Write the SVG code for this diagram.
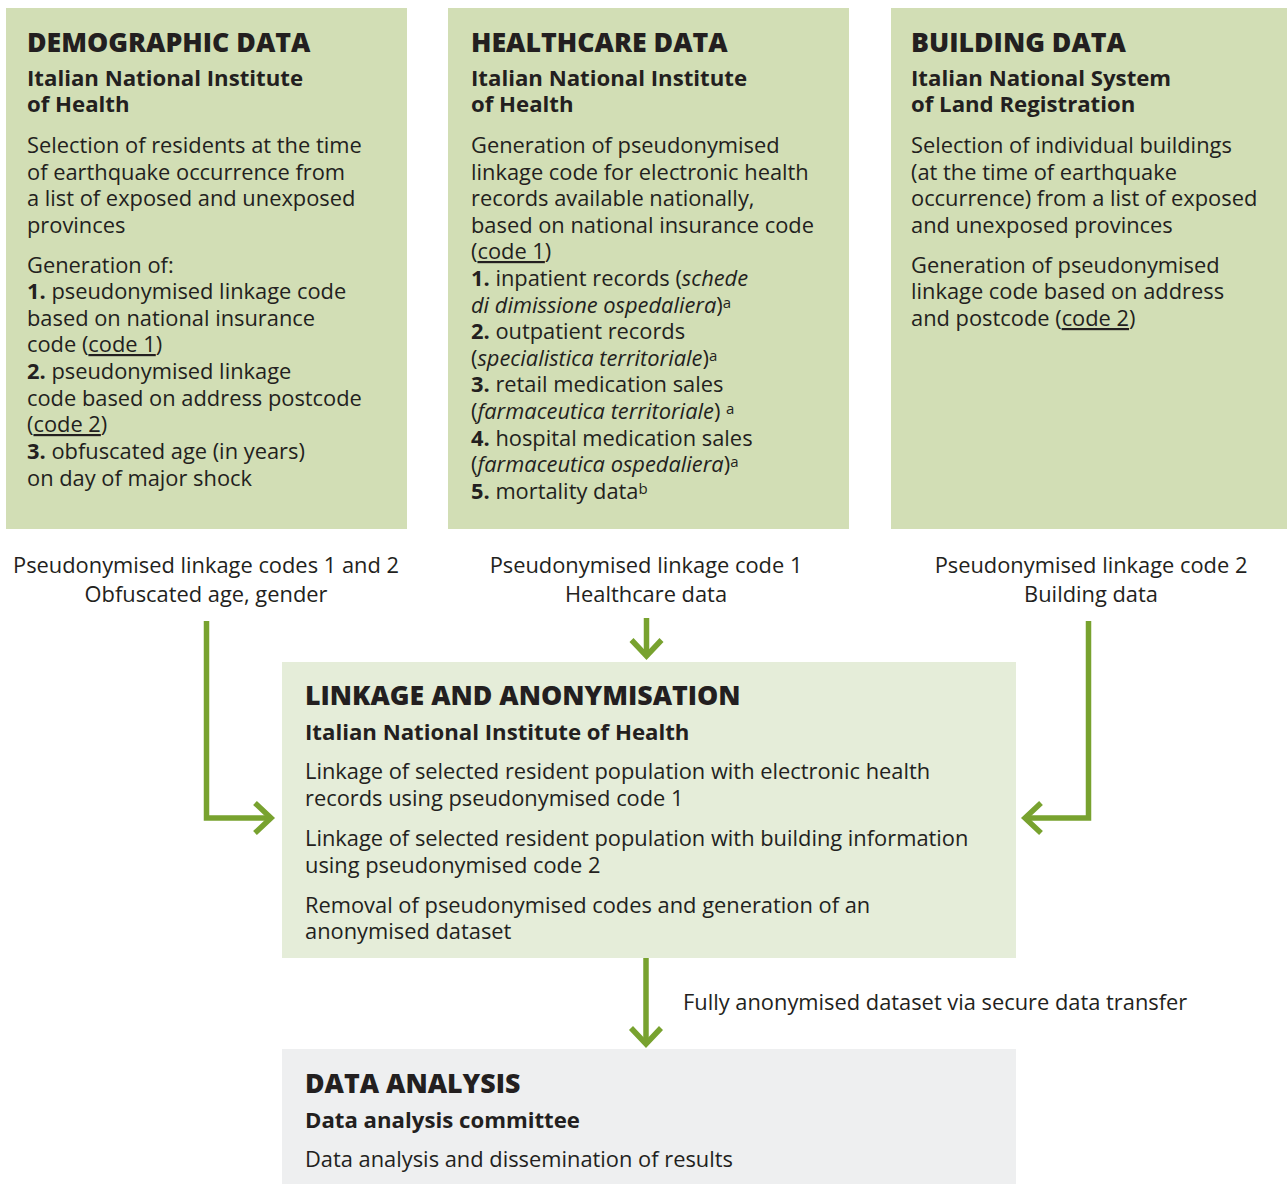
<svg xmlns="http://www.w3.org/2000/svg" width="1287" height="1184" viewBox="0 0 1287 1184">
  <style>
    text { font-family: "Open Sans", "Noto Sans", "DejaVu Sans", sans-serif; fill: #231f20; }
    .title { font-size: 26.7px; font-weight: 800; }
    .sub { font-size: 22.2px; font-weight: 700; }
    .body { font-size: 21.85px; font-weight: 400; }
    .b { font-weight: 700; }
    .i { font-style: italic; }
    .u { text-decoration: underline; }
    .sup { font-size: 15px; }
    .src { fill: #d2deb5; }
    .link { fill: #e5edd9; }
    .ana { fill: #eeeff0; }
    .flow { fill: none; stroke: #78a22f; stroke-width: 5.5; marker-end: url(#chev); }
  </style>
  <defs>
    <marker id="chev" markerUnits="userSpaceOnUse" viewBox="-24 -20 30 40" markerWidth="30" markerHeight="40" refX="0" refY="0" orient="auto">
      <path d="M-16,-15 L0,0 L-16,15" fill="none" stroke="#78a22f" stroke-width="5.5"/>
    </marker>
  </defs>

  <rect width="1287" height="1184" fill="#ffffff"/>

  <!-- Source: demographic data -->
  <g id="demographic">
    <rect class="src" x="6" y="8" width="401" height="521"/>
    <text class="title" x="27" y="52">DEMOGRAPHIC DATA</text>
    <text class="sub" x="27" y="86">Italian National Institute</text>
    <text class="sub" x="27" y="112">of Health</text>
    <text class="body" x="27">
      <tspan x="27" y="153">Selection of residents at the time</tspan>
      <tspan x="27" y="180">of earthquake occurrence from</tspan>
      <tspan x="27" y="206">a list of exposed and unexposed</tspan>
      <tspan x="27" y="233">provinces</tspan>
      <tspan x="27" y="273">Generation of:</tspan>
      <tspan x="27" y="299"><tspan class="b">1.</tspan> pseudonymised linkage code</tspan>
      <tspan x="27" y="326">based on national insurance</tspan>
      <tspan x="27" y="352">code (<tspan class="u">code 1</tspan>)</tspan>
      <tspan x="27" y="379"><tspan class="b">2.</tspan> pseudonymised linkage</tspan>
      <tspan x="27" y="406">code based on address postcode</tspan>
      <tspan x="27" y="432">(<tspan class="u">code 2</tspan>)</tspan>
      <tspan x="27" y="459"><tspan class="b">3.</tspan> obfuscated age (in years)</tspan>
      <tspan x="27" y="486">on day of major shock</tspan>
    </text>
  </g>

  <!-- Source: healthcare data -->
  <g id="healthcare">
    <rect class="src" x="448" y="8" width="401" height="521"/>
    <text class="title" x="471" y="52">HEALTHCARE DATA</text>
    <text class="sub" x="471" y="86">Italian National Institute</text>
    <text class="sub" x="471" y="112">of Health</text>
    <text class="body">
      <tspan x="471" y="153">Generation of pseudonymised</tspan>
      <tspan x="471" y="180">linkage code for electronic health</tspan>
      <tspan x="471" y="206">records available nationally,</tspan>
      <tspan x="471" y="233">based on national insurance code</tspan>
      <tspan x="471" y="259">(<tspan class="u">code 1</tspan>)</tspan>
      <tspan x="471" y="286"><tspan class="b">1.</tspan> inpatient records (<tspan class="i">schede</tspan></tspan>
      <tspan x="471" y="313"><tspan class="i">di dimissione ospedaliera</tspan>)<tspan class="sup" dy="-5">a</tspan></tspan>
      <tspan x="471" y="339"><tspan class="b">2.</tspan> outpatient records</tspan>
      <tspan x="471" y="366">(<tspan class="i">specialistica territoriale</tspan>)<tspan class="sup" dy="-5">a</tspan></tspan>
      <tspan x="471" y="392"><tspan class="b">3.</tspan> retail medication sales</tspan>
      <tspan x="471" y="419">(<tspan class="i">farmaceutica territoriale</tspan>) <tspan class="sup" dy="-5">a</tspan></tspan>
      <tspan x="471" y="446"><tspan class="b">4.</tspan> hospital medication sales</tspan>
      <tspan x="471" y="472">(<tspan class="i">farmaceutica ospedaliera</tspan>)<tspan class="sup" dy="-5">a</tspan></tspan>
      <tspan x="471" y="499"><tspan class="b">5.</tspan> mortality data<tspan class="sup" dy="-5">b</tspan></tspan>
    </text>
  </g>

  <!-- Source: building data -->
  <g id="building">
    <rect class="src" x="891" y="8" width="396" height="521"/>
    <text class="title" x="911" y="52">BUILDING DATA</text>
    <text class="sub" x="911" y="86">Italian National System</text>
    <text class="sub" x="911" y="112">of Land Registration</text>
    <text class="body">
      <tspan x="911" y="153">Selection of individual buildings</tspan>
      <tspan x="911" y="180">(at the time of earthquake</tspan>
      <tspan x="911" y="206">occurrence) from a list of exposed</tspan>
      <tspan x="911" y="233">and unexposed provinces</tspan>
      <tspan x="911" y="273">Generation of pseudonymised</tspan>
      <tspan x="911" y="299">linkage code based on address</tspan>
      <tspan x="911" y="326">and postcode (<tspan class="u">code 2</tspan>)</tspan>
    </text>
  </g>

  <!-- Linkage step -->
  <g id="linkage">
    <rect class="link" x="282" y="662" width="734" height="296"/>
    <text class="title" x="305" y="705">LINKAGE AND ANONYMISATION</text>
    <text class="sub" x="305" y="740">Italian National Institute of Health</text>
    <text class="body">
      <tspan x="305" y="779">Linkage of selected resident population with electronic health</tspan>
      <tspan x="305" y="806">records using pseudonymised code 1</tspan>
      <tspan x="305" y="846">Linkage of selected resident population with building information</tspan>
      <tspan x="305" y="873">using pseudonymised code 2</tspan>
      <tspan x="305" y="913">Removal of pseudonymised codes and generation of an</tspan>
      <tspan x="305" y="939">anonymised dataset</tspan>
    </text>
  </g>

  <!-- Analysis step -->
  <g id="analysis">
    <rect class="ana" x="282" y="1049" width="734" height="135"/>
    <text class="title" x="305" y="1093">DATA ANALYSIS</text>
    <text class="sub" x="305" y="1128">Data analysis committee</text>
    <text class="body" x="305" y="1167">Data analysis and dissemination of results</text>
  </g>

  <!-- Flows between steps -->
  <g id="connectors">
    <path class="flow" d="M206.5,621 V818 H271"/>
    <path class="flow" d="M1088.5,621 V818 H1025"/>
    <path class="flow" d="M646.5,618 V656"/>
    <path class="flow" d="M646,958 V1044"/>
  </g>

  <!-- Flow labels -->
  <g id="flow-labels">
    <text class="body" text-anchor="middle" x="206" y="573">Pseudonymised linkage codes 1 and 2</text>
    <text class="body" text-anchor="middle" x="206" y="602">Obfuscated age, gender</text>
    <text class="body" text-anchor="middle" x="646" y="573">Pseudonymised linkage code 1</text>
    <text class="body" text-anchor="middle" x="646" y="602">Healthcare data</text>
    <text class="body" text-anchor="middle" x="1091" y="573">Pseudonymised linkage code 2</text>
    <text class="body" text-anchor="middle" x="1091" y="602">Building data</text>
    <text class="body" x="683" y="1010">Fully anonymised dataset via secure data transfer</text>
  </g>
</svg>
